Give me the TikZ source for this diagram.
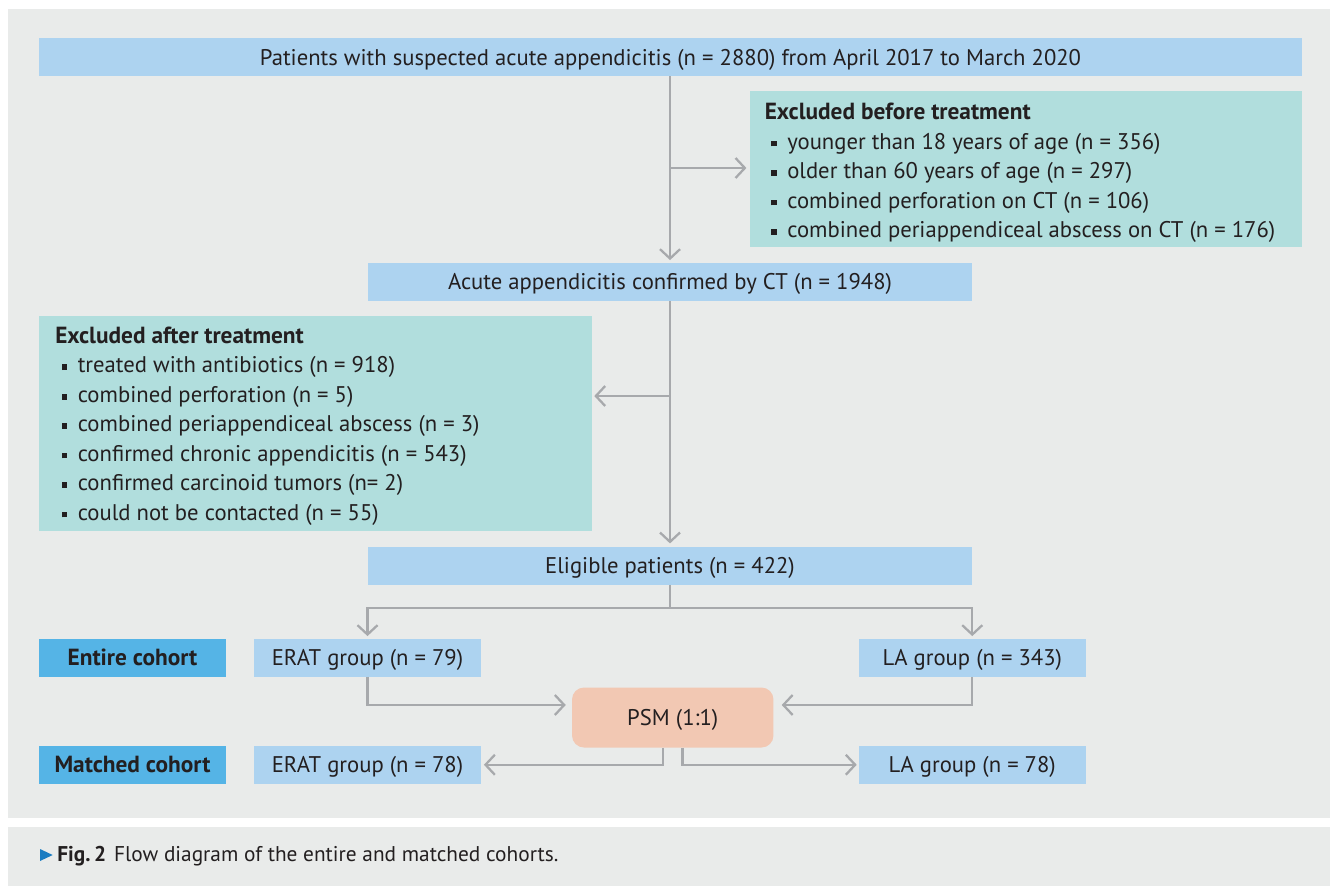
\documentclass[tikz,border=0pt]{standalone}
\usepackage{fontspec}
\setmainfont{PT Sans}
\usetikzlibrary{arrows.meta}
\definecolor{bgc}{HTML}{E9EBEA}
\definecolor{lblue}{HTML}{ADD3F0}
\definecolor{teal}{HTML}{B1DEDD}
\definecolor{dblue}{HTML}{55B4E6}
\definecolor{psmc}{HTML}{F2C8B3}
\definecolor{arrc}{HTML}{A7A9AC}
\definecolor{txt}{HTML}{231F20}
\definecolor{capblue}{HTML}{1A7CC1}
\newcommand\mybul{\makebox[12pt][l]{\raisebox{2pt}{\rule{4.2pt}{4.2pt}}}}
\begin{document}
\begin{tikzpicture}[x=0.75pt,y=-0.75pt,
  every node/.style={text=txt,font=\fontsize{17}{20}\selectfont},
  boldf/.style={font=\fontsize{17.5}{20}\selectfont\bfseries},
  ctext/.style={text height=14pt,text depth=2pt},
  box/.style={fill=lblue,inner sep=0pt,minimum height=28.125pt,ctext},
  exbox/.style={fill=teal,inner sep=0pt},
  cohort/.style={fill=dblue,inner sep=0pt,minimum height=28.125pt,minimum width=140.25pt,boldf,ctext},
  psmbox/.style={fill=psmc,inner sep=0pt,minimum height=45pt,minimum width=151.1pt,rounded corners=9pt,ctext},
  ln/.style={draw=arrc,line width=1.7pt},
  arr/.style={ln,-{Straight Barb[length=7pt,width=15pt,line width=1.7pt]}},
  lineitem/.style={anchor=base west,inner sep=0pt}
]
\useasboundingbox (0,0) rectangle (1330,886);
\fill[white] (0,0) rectangle (1330,886);
\fill[bgc] (8,9) rectangle (1330,817.5);
\fill[bgc] (8,826.5) rectangle (1330,886);

% boxes
\node[box,minimum width=947.25pt,minimum height=28.5pt] (top) at (670.5,57) {Patients with suspected acute appendicitis (n = 2880) from April 2017 to March 2020};
\node[exbox,minimum width=414pt,minimum height=117pt] (before) at (1026,169) {};
\node[box,minimum width=453pt] (ct) at (670,281.75) {Acute appendicitis confirmed by CT (n = 1948)};
\node[exbox,minimum width=414.4pt,minimum height=161.6pt] (after) at (315.75,423.75) {};
\node[box,minimum width=453pt] (elig) at (670,565.75) {Eligible patients (n = 422)};
\node[cohort] (entire) at (132.5,657.75) {Entire cohort};
\node[box,minimum width=170.25pt] (erat1) at (367.5,657.75) {ERAT group (n = 79)};
\node[box,minimum width=169.9pt] (la1) at (972.25,657.75) {LA group (n = 343)};
\node[psmbox] (psm) at (672.75,717.5) {PSM (1:1)};
\node[cohort] (matched) at (132.5,764.75) {Matched cohort};
\node[box,minimum width=170.25pt] (erat2) at (367.5,764.75) {ERAT group (n = 78)};
\node[box,minimum width=169.9pt] (la2) at (972.25,764.75) {LA group (n = 78)};

% excluded before
\node[lineitem,boldf] (bh) at (764.5,119.5) {Excluded before treatment};
\node[lineitem] (b1) at (771,149) {\mybul younger than 18 years of age (n = 356)};
\node[lineitem] (b2) at (771,178.5) {\mybul older than 60 years of age (n = 297)};
\node[lineitem] (b3) at (771,208) {\mybul combined perforation on CT (n = 106)};
\node[lineitem] (b4) at (771,237.5) {\mybul combined periappendiceal abscess on CT (n = 176)};

% excluded after
\node[lineitem,boldf] (ah) at (55,343.3) {Excluded after treatment};
\node[lineitem] (a1) at (61.5,372.7) {\mybul treated with antibiotics (n = 918)};
\node[lineitem] (a2) at (61.5,402.2) {\mybul combined perforation (n = 5)};
\node[lineitem] (a3) at (61.5,431.6) {\mybul combined periappendiceal abscess (n = 3)};
\node[lineitem] (a4) at (61.5,461.1) {\mybul confirmed chronic appendicitis (n = 543)};
\node[lineitem] (a5) at (61.5,490.5) {\mybul confirmed carcinoid tumors (n= 2)};
\node[lineitem] (a6) at (61.5,520) {\mybul could not be contacted (n = 55)};

% connectors
\coordinate (j1) at (670,168);
\coordinate (j2) at (670,396);
\coordinate (j3) at (670,608);
\draw[arr,shorten >=2pt] (ct.north |- top.south) -- (ct.north);
\draw[arr,shorten >=2.5pt] (j1) -- (j1 -| before.west);
\draw[arr,shorten >=2.5pt] (ct.south) -- (elig.north);
\draw[arr,shorten >=1.5pt] (j2) -- (j2 -| after.east);
\draw[ln] (elig.south) -- (j3);
\draw[arr,shorten >=2pt] (j3) -| (erat1.north);
\draw[arr,shorten >=2pt] (j3) -| (la1.north);
\draw[arr,shorten >=4.5pt] (erat1.south) |- ([yshift=9.4pt]psm.west);
\draw[arr,shorten >=6pt] (la1.south) |- ([yshift=9.4pt]psm.east);
\draw[arr,shorten >=2pt] ([xshift=-7.5pt]psm.south) |- (erat2.east);
\draw[arr,shorten >=1.5pt] ([xshift=7.3pt]psm.south) |- (la2.west);

% caption
\fill[capblue] (40,849) -- (52.7,855) -- (40,861) -- cycle;
\node[lineitem,font=\fontsize{16}{18}\selectfont] (cap) at (57,861) {\textbf{Fig.\,2}\hspace{6pt}Flow diagram of the entire and matched cohorts.};
\end{tikzpicture}
\end{document}
